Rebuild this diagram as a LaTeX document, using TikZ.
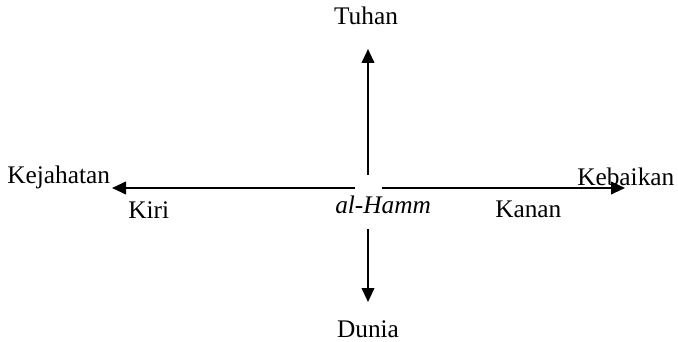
\documentclass[tikz,border=0pt]{standalone}
\usepackage{fontspec}
\setmainfont{Liberation Serif}
\usetikzlibrary{arrows.meta}
\begin{document}
\begin{tikzpicture}[x=0.75pt,y=-0.75pt,
  lbl/.style={inner sep=0pt, font=\fontsize{19}{22}\selectfont},
  axis/.style={line width=1.4pt, -{Triangle[length=10.5pt,width=9.5pt]}}]
\useasboundingbox (0,0) rectangle (678,342);
\node[lbl] (tuhan) at (366,16) {Tuhan};
\node[lbl] (dunia) at (368,329) {Dunia};
\node[lbl, anchor=west] (jahat) at (7,177) {Kejahatan};
\node[lbl, anchor=west] (baik) at (577,177) {Kebaikan};
\node[lbl, anchor=west] (kiri) at (128,210) {Kiri};
\node[lbl, anchor=west] (kanan) at (495,209) {Kanan};
\node[lbl, anchor=west, font=\fontsize{19}{22}\selectfont\itshape] (hamm) at (335,205) {al-Hamm};
\coordinate (uS) at (368,175);
\coordinate (uE) at (368,49);
\coordinate (dS) at (368,229);
\coordinate (dE) at (368,302);
\coordinate (lS) at (355,188);
\coordinate (lE) at (112,188);
\coordinate (rS) at (382,188);
\coordinate (rE) at (625,188);
\draw[axis] (uS) -- (uE);
\draw[axis] (dS) -- (dE);
\draw[axis] (lS) -- (lE);
\draw[axis] (rS) -- (rE);
\end{tikzpicture}
\end{document}
